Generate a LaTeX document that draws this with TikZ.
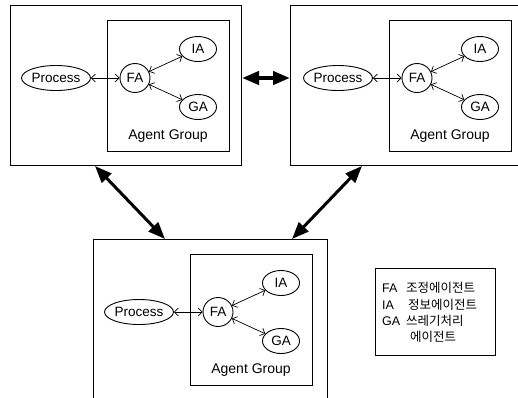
\documentclass[tikz,border=0pt]{standalone}
\usepackage{fontspec}
\setmainfont{Liberation Sans}
\newfontfamily\krfont{Noto Sans CJK KR}
\usetikzlibrary{arrows.meta,shapes.geometric,calc}

\tikzset{
  box/.style={draw,line width=1pt,inner sep=0pt},
  agent/.style={draw,ellipse,line width=0.9pt,inner sep=0pt,
    font=\fontsize{13.5}{15}\selectfont},
  link/.style={line width=0.7pt,
    {Straight Barb[length=4pt,width=8pt]}-{Straight Barb[length=4pt,width=8pt]}},
  bigarrow/.style={line width=3pt,
    {Triangle[length=17pt,width=13pt]}-{Triangle[length=17pt,width=13pt]}},
  label/.style={font=\fontsize{14}{15}\selectfont,inner sep=0pt},
  legtext/.style={font=\fontsize{12.5}{15}\selectfont,inner sep=0pt,anchor=west},
  % one process together with its agent group
  unit/.pic={
    \node[box,anchor=north west,minimum width=122pt,minimum height=131pt] (-grp) at (0,0) {};
    \node[agent,minimum width=60pt,minimum height=25pt] (-proc) at (-51,58) {Process};
    \node[agent,minimum width=30pt,minimum height=29pt] (-fa) at (28,58) {FA};
    \node[agent,minimum width=37pt,minimum height=25pt] (-ia) at (91,29) {IA};
    \node[agent,minimum width=37pt,minimum height=25pt] (-ga) at (91,87) {GA};
    \node[label] (-cap) at (61,116) {Agent Group};
    \draw[link] (-proc) -- (-fa);
    \draw[link] (-fa) -- (-ia);
    \draw[link] (-fa) -- (-ga);
  }
}

\begin{document}
\begin{tikzpicture}[x=1pt,y=-1pt]
\useasboundingbox (0,0) rectangle (518,397);
\clip (0,0) rectangle (518,397);

% host boxes (the right and lower ones run past the edge)
\node[box,anchor=north west,minimum width=231pt,minimum height=160pt] (left) at (10,5) {};
\node[box,anchor=north west,minimum width=250pt,minimum height=160pt] (right) at (290,5) {};
\node[box,anchor=north west,minimum width=234pt,minimum height=180pt] (bottom) at (93,239) {};

\pic (tl) at (107,20) {unit};
\pic (tr) at (389,20) {unit};
\pic (bt) at (190,254) {unit};

% links between hosts
\draw[bigarrow,line width=4pt] ($(left.north east)+(0,73)$) -- ($(right.north west)+(0,73)$);
\draw[bigarrow] ($(left.south west)+(85,0)$) -- ($(bottom.north west)+(72,0)$);
\draw[bigarrow] ($(right.south west)+(72,0)$) -- ($(bottom.north west)+(199,0)$);

% legend
\node[box,anchor=north west,minimum width=120pt,minimum height=87pt] (legend) at (375,268) {};
\node[legtext] (k1) at (382,288) {FA};
\node[legtext] (v1) at (406,288) {\krfont 조정에이전트};
\node[legtext] (k2) at (382,305) {IA};
\node[legtext] (v2) at (408,305) {\krfont 정보에이전트};
\node[legtext] (k3) at (382,321) {GA};
\node[legtext] (v3) at (406,321) {\krfont 쓰레기처리};
\node[legtext] (v4) at (410,337) {\krfont 에이전트};
\end{tikzpicture}
\end{document}
